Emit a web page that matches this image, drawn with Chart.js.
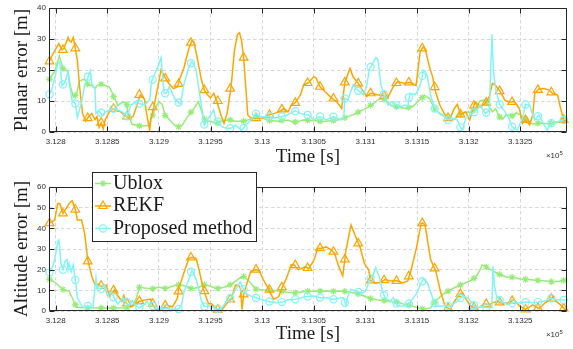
<!DOCTYPE html>
<html><head><meta charset="utf-8">
<script src="https://cdn.jsdelivr.net/npm/chart.js@4.4.1/dist/chart.umd.min.js"></script>
<style>
html,body{margin:0;padding:0;background:#fff;}
#wrap{position:relative;width:573px;height:349px;overflow:hidden;background:#fff;}
canvas{position:absolute;left:0;}
#c1{top:0;width:573px;height:175px;}
#c2{top:165px;width:573px;height:184px;}
</style></head><body>
<div id="wrap"><canvas id="c1" width="573" height="175"></canvas><canvas id="c2" width="573" height="184"></canvas></div>
<script>
// ---------------- DATA ----------------
const seriesNames = ['Ublox', 'REKF', 'Proposed method'];
const xTickValues = [312800, 312850, 312900, 312950, 313000, 313050, 313100, 313150, 313200, 313250];
const planarYTicks = [0, 10, 20, 30, 40];
const altitudeYTicks = [0, 10, 20, 30, 40, 50, 60];
const X_MIN = 312793.5, X_MAX = 313295;

// marker sample times (shared by all series)
const markerTimes = [312794, 312807, 312819, 312831, 312844, 312856, 312869, 312881, 312894, 312906,
  312919, 312931, 312944, 312957, 312969, 312982, 312994, 313007, 313019, 313032,
  313044, 313056, 313069, 313080, 313093, 313105, 313118, 313130, 313142, 313155,
  313167, 313180, 313192, 313205, 313217, 313230, 313242, 313255, 313267, 313280, 313292];

// ---- Planar error: Ublox ----
const planarUbloxT = [312793.5, 312799, 312803.5, 312807, 312812, 312814, 312817, 312820, 312823, 312828,
  312831, 312835, 312838, 312840, 312844, 312848, 312852, 312855, 312857, 312860,
  312864, 312868, 312871, 312874, 312881, 312888, 312891, 312893, 312896, 312900,
  312903, 312906, 312910, 312914, 312918, 312922, 312926, 312929, 312932, 312935,
  312938, 312940, 312943, 312945, 312950, 312955, 312960, 312968, 312973, 312982,
  312987, 312992, 312997, 313001, 313006, 313016, 313021, 313025, 313031, 313040,
  313045, 313059, 313072, 313081, 313091, 313101, 313107, 313114, 313120, 313125,
  313133, 313139, 313146, 313153, 313157, 313162, 313167, 313173, 313180, 313185,
  313194, 313200, 313202, 313205, 313211, 313215, 313218, 313223, 313226, 313230,
  313233, 313236, 313240, 313243, 313246, 313250, 313257, 313262, 313269, 313276,
  313284, 313291, 313295];
const planarUbloxV = [17, 19.5, 24.5, 20.5, 19.5, 15, 11.5, 12, 16.5, 17,
  15.5, 15, 14, 15, 15.5, 15, 14.5, 12.5, 11, 8.5,
  9.5, 9.5, 5, 2.5, 2, 2, 2.5, 5, 7.5, 9.8,
  9, 5.5, 4, 2.5, 1.6, 2, 4, 5.5, 6.6, 8,
  9.8, 8, 4.8, 3.5, 3.5, 2.7, 3.5, 4, 3.5, 3.5,
  4, 4.5, 5.2, 4.5, 3.7, 3.5, 3.8, 3.8, 3.1, 3.9,
  3.8, 3.4, 3.8, 4.7, 6, 7.7, 9, 10.8, 10.3, 8.5,
  8, 7.6, 8.3, 10.5, 11.9, 10.8, 7.5, 5.6, 4.5, 4,
  6, 6.5, 5.8, 7, 10, 10.3, 9.2, 6.5, 7.5, 4.8,
  4.2, 5.5, 5.5, 5, 6.2, 5.5, 3.5, 2.6, 2.9, 2.7,
  3, 3.5, 3.8];
const planarUbloxMk = [17, 20.5, 11.8, 15.4, 15.4, 11.4, 8.8, 2, 5.4, 5.3,
  1.7, 6.4, 4.2, 2.9, 3.9, 3.5, 4.8, 3.7, 3.7, 3.2,
  3.8, 3.5, 3.7, 4.6, 6.4, 8.6, 10.5, 8.2, 7.9, 11.1,
  7.5, 4.5, 5.6, 7, 9.6, 4.8, 5.2, 4.1, 2.8, 2.9, 3.6];

// ---- Planar error: REKF ----
const planarRekfT = [312793.5, 312797, 312803, 312806, 312808, 312812, 312813, 312815, 312817, 312819,
  312821, 312823, 312826, 312829, 312832, 312835, 312838, 312840, 312842, 312844,
  312846, 312848, 312852, 312855, 312859, 312863, 312866, 312871, 312875, 312879,
  312882, 312886, 312888, 312891, 312892, 312895, 312898, 312902, 312906, 312910,
  312914, 312918, 312920, 312924, 312929, 312932, 312934, 312937, 312941, 312944,
  312947, 312950, 312953, 312956, 312960, 312963, 312966, 312970, 312973, 312976,
  312978, 312980, 312982, 312984, 312986, 312989, 312997, 313001, 313006, 313012,
  313016, 313021, 313025, 313028, 313032, 313037, 313040, 313045, 313050, 313052,
  313056, 313061, 313067, 313072, 313077, 313080, 313085, 313088, 313093, 313098,
  313101, 313105, 313112, 313122, 313127, 313131, 313138, 313143, 313149, 313153,
  313156, 313158, 313162, 313165, 313168, 313172, 313177, 313182, 313186, 313189,
  313192, 313197, 313201, 313206, 313209, 313211, 313216, 313220, 313223, 313226,
  313231, 313235, 313239, 313244, 313249, 313252, 313255, 313259, 313262, 313264,
  313268, 313273, 313278, 313281, 313286, 313289, 313292, 313295];
const planarRekfV = [22.5, 25, 28.5, 26.5, 27, 30.5, 29.5, 29, 30.5, 27,
  23, 15, 6, 3.5, 5, 6, 4, 5, 1.5, 3,
  1, 4, 6.5, 7.5, 7, 6.5, 5.5, 4.5, 5, 9,
  12, 10.5, 6, 0.5, 4, 8, 13, 20, 17.5, 15.5,
  14, 14.5, 17, 20.5, 27, 29.5, 29, 24, 17, 13.5,
  12, 11, 12.5, 10, 5.5, 2.8, 6, 15, 26, 31.5,
  32, 29.5, 24, 15, 5.5, 4.5, 4.5, 4.5, 5.5, 6,
  6.5, 7.5, 6.5, 8.5, 9.5, 12, 15, 16, 17.8, 17.5,
  14.6, 13, 11, 9.8, 7.6, 16, 20.5, 17.8, 15.7, 13,
  11.4, 12.5, 12, 11.4, 14.6, 16.2, 15.7, 16, 15, 26,
  27.5, 26.5, 21, 17.8, 12.8, 8.7, 5.5, 4.4, 7.6, 8.9,
  5.7, 6.5, 3.9, 9.6, 9, 8, 9.2, 11.5, 15.7, 15,
  12.8, 10.3, 9.6, 9.8, 7.6, 2.8, 3.9, 2.3, 5.5, 12.5,
  13.9, 14, 13.5, 12.5, 12, 7.6, 3.9, 3.5];
const planarRekfMk = [22.8, 26.5, 27, 4.5, 3, 7.5, 5, 12, 8, 17.3,
  15.5, 28.8, 13.5, 10, 14, 24, 4.5, 5.5, 7.3, 9.4,
  15.8, 14.6, 10.8, 16, 15.7, 12.5, 11.7, 15.8, 16, 27,
  14.5, 4.5, 5.7, 8.5, 9.5, 13.2, 9.7, 3.9, 13.6, 12.8, 3.9];

// ---- Planar error: Proposed method ----
const planarPropT = [312793.5, 312796, 312799, 312802, 312804, 312806, 312809, 312812, 312813, 312816,
  312819, 312821, 312825, 312828, 312831, 312833.5, 312835, 312838, 312839, 312842,
  312845, 312850, 312857, 312864, 312869, 312873, 312878, 312881, 312886, 312891,
  312893, 312897, 312900, 312902, 312905, 312907, 312910, 312915, 312918, 312921,
  312924, 312929, 312932, 312936, 312939, 312941, 312944, 312946, 312950, 312953,
  312955, 312957, 312961, 312965, 312970, 312974, 312980, 312984, 312989, 312994,
  312998, 313006, 313011, 313019, 313024, 313032, 313037, 313043, 313045, 313050,
  313056, 313062, 313069, 313076, 313079, 313080, 313083, 313088, 313091, 313095,
  313098, 313101, 313104, 313106, 313110, 313112, 313115, 313119, 313122, 313125,
  313130, 313134, 313139, 313141, 313143, 313148, 313151, 313154, 313156, 313158,
  313160, 313163, 313167, 313170, 313175, 313180, 313184, 313189, 313192, 313194,
  313197, 313201, 313206, 313209, 313211, 313216, 313220, 313222.5, 313224, 313226,
  313230, 313235, 313239, 313242, 313247, 313252, 313255, 313259, 313262, 313264,
  313268, 313273, 313276, 313281, 313286, 313292, 313295];
const planarPropV = [12, 13.5, 17.3, 22, 22.7, 15, 16, 19.5, 16, 9.8,
  9.2, 4.8, 9.5, 15.2, 17.3, 19.7, 15.5, 14, 6, 6.8,
  5.5, 6.8, 7.5, 6.6, 5, 8.7, 9.8, 9.2, 8.7, 10.3,
  16.5, 19.5, 22, 24, 12.5, 12.5, 14.6, 10.9, 9.8, 9,
  15.2, 21, 22.8, 20, 13, 8.7, 2.2, 3.5, 5.5, 7.1,
  4, 3.2, 1.7, 1.2, 1.2, 2.2, 0.6, 2.2, 3.8, 6,
  4.8, 5, 4.5, 5, 5.5, 6.8, 6, 5.5, 5.5, 3.9,
  5, 3.9, 5, 3.9, 4.4, 10.9, 10.3, 15.2, 14, 12.8,
  12, 14.6, 20.5, 21.5, 24, 23.5, 15.2, 10.9, 8.7, 9.8,
  8.7, 8.2, 8.7, 8, 12.5, 12, 13.6, 16.2, 20, 19.5,
  17.8, 12, 7.6, 6.5, 5.5, 3.9, 4.4, 3.9, 1.5, 0.6,
  4.4, 5.5, 6.6, 7.6, 8.7, 6, 7, 31.5, 19.5, 14,
  8.9, 6.6, 4.4, 1.7, 0.6, 4.4, 8.9, 8.7, 5.5, 3.9,
  5.5, 2.3, 0.6, 3.3, 3.3, 3.9, 4.4];
const planarPropMk = [12.2, 15.3, 9.2, 17.8, 6.2, 7.5, 5.1, 9.2, 16.9, 12.5,
  9.5, 22.2, 2.4, 3.4, 1.2, 1.2, 5.9, 5, 5, 6.7,
  5.5, 5, 4.9, 10.8, 13.3, 21, 12.2, 8.6, 11.1, 18.1,
  7.6, 3.9, 1.5, 6.4, 6.2, 8.9, 1.7, 8.9, 5.1, 2.8, 3.9];

// ---- Altitude error: Ublox ----
const altUbloxT = [312793.5, 312799, 312807, 312813, 312816, 312820, 312831, 312844, 312857, 312869,
  312874, 312878, 312881, 312888, 312893, 312900, 312907, 312913, 312919, 312926,
  312932, 312939, 312944, 312950, 312956, 312963, 312970, 312977, 312982, 312987,
  312994, 313000, 313006, 313013, 313019, 313025, 313031, 313038, 313045, 313056,
  313069, 313080, 313088, 313093, 313100, 313105, 313112, 313119, 313125, 313131,
  313138, 313144, 313151, 313157, 313163, 313168, 313175, 313182, 313187, 313194,
  313201, 313207, 313210, 313213, 313218, 313223, 313231, 313237, 313244, 313250,
  313257, 313268, 313275, 313281, 313288, 313293, 313295];
const altUbloxV = [15.5, 14, 10.4, 9.5, 6.4, 1.8, 1.6, 1.4, 1.4, 1.6,
  2.5, 6, 11.5, 11, 10.8, 11.5, 10.8, 12, 12.8, 12,
  10.8, 11.5, 12.8, 12, 10.8, 11.5, 12.8, 15.5, 16.8, 14.5,
  10.5, 10.3, 10.1, 9.8, 9.6, 9, 8.8, 9.2, 9.6, 9.7,
  9.6, 9.5, 8.8, 8.2, 7, 6, 5.3, 5, 4.5, 4.2,
  3.2, 2.6, 1.5, 0.8, 1.5, 5, 8, 10.2, 11.5, 13,
  14.5, 16.5, 19, 22.3, 21, 19.5, 17.4, 16.5, 16.2, 15.5,
  15.2, 14.8, 14.5, 14.2, 14.4, 14.9, 15];
const altUbloxMk = [15.3, 10.4, 3, 1.6, 1.4, 1.4, 1.6, 11.5, 10.8, 10.9,
  12.7, 10.9, 12.7, 10.9, 12.7, 16.7, 10.5, 10.1, 9.6, 8.8,
  9.5, 9.7, 9.6, 9.5, 8.2, 6, 5.1, 4.3, 2.8, 1.1,
  4.3, 9.6, 12.6, 15.8, 21.3, 17.7, 16.3, 15.3, 14.8, 14.2, 14.8];

// ---- Altitude error: REKF ----
const altRekfT = [312793.5, 312799, 312802, 312804, 312807, 312811, 312813, 312816, 312819, 312821,
  312825, 312828, 312831, 312835, 312838, 312842, 312844, 312849, 312852, 312857,
  312860, 312864, 312866, 312868, 312873, 312876, 312881, 312888, 312892, 312893,
  312897, 312903, 312907, 312913, 312918, 312919, 312924, 312929, 312932, 312936,
  312939, 312942, 312944, 312948, 312951, 312956, 312961, 312966, 312970, 312974,
  312977, 312979, 312980.5, 312982, 312985, 312989, 312994, 312997, 313001, 313006,
  313011, 313016, 313019, 313024, 313028, 313031, 313035, 313038, 313042, 313045,
  313050, 313054, 313057, 313062, 313067, 313070, 313074, 313078, 313081, 313085,
  313086, 313090, 313095, 313099, 313103, 313105, 313110, 313114, 313119, 313124,
  313130, 313136, 313141, 313144, 313149, 313154, 313156, 313158, 313163, 313168,
  313173, 313177, 313182, 313186, 313191, 313194, 313197, 313202, 313207, 313211,
  313216, 313220, 313223, 313228, 313233, 313239, 313244, 313249, 313255, 313262,
  313268, 313274, 313279, 313282, 313284, 313289, 313293, 313295];
const altRekfV = [42.4, 44, 52, 52, 47.2, 50.4, 52, 53.3, 49.1, 44,
  44, 37.6, 25, 16.7, 12.7, 13, 11.9, 12.5, 7, 10.3,
  7.5, 4.7, 7.5, 3.9, 1.9, 3, 4.7, 5.5, 5.8, 3.9,
  0.6, 0.6, 3, 1.9, 6.3, 10.5, 18.3, 25.5, 26, 25.5,
  19.6, 12.7, 9, 3.5, 3.5, 0.7, 0.6, 3.9, 5.8, 12.5,
  12.5, 11, 0.6, 8, 13, 19.3, 20, 19.5, 15.2, 10.8,
  5.6, 7, 11, 16.5, 22.5, 22.3, 20, 20.5, 21.5, 20.4,
  24.5, 30.5, 30.3, 31, 29.5, 28, 21.7, 17, 29, 39.3,
  41.7, 36.5, 30.5, 23, 20, 14.8, 13.5, 13.8, 15.2, 14.5,
  14.7, 13.6, 14.5, 19.5, 29.7, 42.5, 42.5, 41, 25, 19.5,
  8.8, 2.4, 0.8, 4.5, 8, 8.7, 6, 2.5, 1.1, 2,
  3.5, 3, 4, 4.6, 3.5, 4, 5.5, 2.5, 0.8, 3,
  1.2, 4, 5.5, 7, 5, 3, 0.8, 1];
const altRekfMk = [42.5, 47.2, 49.1, 24, 12.2, 10, 3.7, 4.8, 3.5, 2.7,
  9.5, 25.9, 9.6, 0.7, 5.6, 8, 20, 10.3, 11.5, 22.2,
  20.8, 30.4, 28.7, 25, 32.7, 14.8, 14.9, 14.6, 16.8, 42.5,
  20.6, 1.4, 8.2, 1.7, 3.4, 4.2, 4.9, 0.8, 1.5, 6, 1.2];

// ---- Altitude error: Proposed method ----
const altPropT = [312793.5, 312797, 312799, 312802, 312803, 312804, 312805, 312807, 312809, 312811,
  312812, 312813, 312815, 312817, 312819, 312821, 312825, 312828, 312831, 312836,
  312839, 312840, 312842, 312844, 312847, 312850, 312854, 312857, 312860, 312864,
  312865, 312868, 312871, 312874, 312878, 312881, 312886, 312888, 312893, 312900,
  312907, 312913, 312918, 312919, 312922, 312924, 312927, 312929, 312932, 312936,
  312939, 312941, 312944, 312950, 312955, 312960, 312966, 312970, 312974, 312977,
  312979, 312980, 312984, 312989, 312994, 312999, 313006, 313013, 313019, 313025,
  313031, 313038, 313043, 313050, 313056, 313062, 313069, 313076, 313079, 313081,
  313083, 313086, 313091, 313095, 313098, 313101, 313104, 313107, 313110, 313113,
  313117, 313119, 313124, 313127, 313131, 313136, 313141, 313144, 313149, 313154,
  313156, 313160, 313165, 313168, 313175, 313182, 313187, 313194, 313199, 313203,
  313207, 313213, 313218, 313222.5, 313223.5, 313225, 313227, 313231, 313237, 313244,
  313250, 313257, 313262, 313268, 313274, 313279, 313284, 313293, 313295];
const altPropV = [18.5, 21.5, 24.9, 33.7, 34.3, 30, 23, 20, 24, 25,
  20, 23, 19, 22.3, 15, 6.5, 2.5, 1.5, 2.5, 1.5,
  16, 11, 11, 10.5, 12.5, 7.5, 9.5, 6, 3.5, 5.5,
  6.5, 4.5, 2.5, 5, 2.5, 1.5, 3, 4.5, 2.5, 1,
  1.2, 0.8, 1, 1, 3, 8.8, 12.7, 15.2, 19.8, 15.2,
  9.5, 5, 2.2, 2.4, 1.1, 1.1, 4.8, 6.4, 10.4, 12.7,
  14, 12.5, 8.5, 7.2, 6.4, 5.6, 4.6, 4, 4.2, 5.5,
  5.6, 6.4, 7, 7.2, 6.4, 6.4, 5.6, 6.4, 6.4, 2.7,
  7.2, 10.4, 9.6, 8.8, 8.8, 10.4, 15.2, 16.9, 21, 17,
  8.8, 6.4, 4.8, 6.4, 2.5, 2.4, 2.4, 4.8, 8, 13.6,
  15.6, 13.6, 6.4, 2.4, 2.4, 2.4, 4, 7.2, 6.4, 4,
  1.6, 2, 1.6, 1.6, 21.7, 12, 7, 4.8, 3.2, 4,
  4, 4.3, 4, 4.3, 4.8, 6.4, 5.6, 5.3, 5.2];
const altPropMk = [18.7, 20, 15, 2.4, 10.6, 6.6, 4.2, 1.7, 2.4, 1.2,
  1, 19, 2.2, 1.1, 6.2, 10.5, 6.3, 4.6, 4.3, 5.7,
  7, 6.5, 5.7, 4, 9.2, 15.8, 7.8, 3.6, 3.5, 14.4,
  3.7, 2.4, 6.3, 2.8, 1.7, 5.3, 3.8, 4.2, 4.3, 6.2, 5.3];

// ---------------- STYLE ----------------
const styles = {
  'Ublox':           {color: '#97EC79', marker: 'star',     radius: 3.3, order: 3},
  'REKF':            {color: '#FFA500', marker: 'triangle', radius: 5,   order: 2},
  'Proposed method': {color: '#84F3F3', marker: 'circle',   radius: 3.6, order: 1}
};
const tickFont = {family: '"Liberation Sans", Arial, sans-serif', size: 8};
const tickColor = '#2e2e2e';
const titleFont = {family: '"Liberation Serif", serif', size: 19};
const titleColor = '#1a1a1a';
const H = Chart.helpers;

function drawMarker(ctx, st, x, y) {
  ctx.save();
  ctx.strokeStyle = st.color; ctx.fillStyle = 'rgba(0,0,0,0)'; ctx.lineWidth = 1.2;
  H.drawPoint(ctx, {pointStyle: st.marker, radius: st.radius, borderWidth: 1.2, rotation: 0}, x, y);
  ctx.restore();
}

function makeDatasets(list) {
  const ds = [];
  list.forEach(s => {
    const st = styles[s.name];
    ds.push({label: s.name, data: s.T.map((t, i) => ({x: t, y: s.V[i]})), showLine: true,
      borderColor: st.color, backgroundColor: st.color, borderWidth: 1.5, pointRadius: 0, order: st.order});
    ds.push({label: s.name + ' markers', data: markerTimes.map((t, i) => ({x: t, y: s.M[i]})), showLine: false,
      pointStyle: st.marker, pointRadius: st.radius, pointBorderWidth: 1.2, pointBorderColor: st.color,
      pointBackgroundColor: 'rgba(0,0,0,0)', borderColor: st.color, backgroundColor: 'rgba(0,0,0,0)',
      order: st.order, clip: 8});
  });
  return ds;
}

const framePlugin = {
  id: 'frame',
  afterDatasetsDraw(chart) {
    const {ctx, chartArea: a} = chart;
    const xs = chart.scales.x, ys = chart.scales.y;
    const L = Math.round(a.left) + 0.5, R = Math.round(a.right) - 0.5;
    const T = Math.round(a.top) + 0.5, B = Math.round(a.bottom) - 0.5;
    ctx.save();
    ctx.strokeStyle = '#262626'; ctx.lineWidth = 1; ctx.setLineDash([]);
    ctx.beginPath();
    ctx.rect(L, T, R - L, B - T);
    xs.ticks.forEach(t => { const p = Math.round(xs.getPixelForValue(t.value)) + 0.5;
      ctx.moveTo(p, B); ctx.lineTo(p, B - 5); ctx.moveTo(p, T); ctx.lineTo(p, T + 5); });
    ys.ticks.forEach(t => { const p = Math.round(ys.getPixelForValue(t.value)) + 0.5;
      ctx.moveTo(L, p); ctx.lineTo(L + 5, p); ctx.moveTo(R, p); ctx.lineTo(R - 5, p); });
    ctx.stroke();
    ctx.restore();
  },
  afterDraw(chart) {
    const {ctx, chartArea: a} = chart;
    const by = a.bottom + 26;
    ctx.save();
    ctx.fillStyle = tickColor; ctx.textAlign = 'right'; ctx.textBaseline = 'alphabetic';
    ctx.font = '6px "Liberation Sans"';
    const e = '5';
    ctx.fillText(e, a.right - 4, by - 3.5);
    const w = ctx.measureText(e).width;
    ctx.font = '8px "Liberation Sans"';
    ctx.fillText('\u00d710', a.right - 4 - w, by);
    ctx.restore();
  }
};

const legendPlugin = {
  id: 'mlegend',
  afterDraw(chart) {
    const ctx = chart.ctx;
    const bx = 92, by = 7, bw = 164, bh = 69;
    ctx.save();
    ctx.fillStyle = '#ffffff'; ctx.fillRect(bx, by, bw, bh);
    ctx.strokeStyle = '#262626'; ctx.lineWidth = 1; ctx.strokeRect(bx + 0.5, by + 0.5, bw, bh);
    ctx.font = '20px "Liberation Serif"'; ctx.textBaseline = 'middle'; ctx.textAlign = 'left';
    seriesNames.forEach((name, i) => {
      const st = styles[name];
      const y = by + 11.5 + i * 22.5;
      ctx.strokeStyle = st.color; ctx.lineWidth = 1.5;
      ctx.beginPath(); ctx.moveTo(bx + 3, y); ctx.lineTo(bx + 19, y); ctx.stroke();
      drawMarker(ctx, st, bx + 11, y);
      ctx.fillStyle = titleColor;
      ctx.fillText(name, bx + 21, y);
    });
    ctx.restore();
  }
};

function fmt(v) { return String(+(v / 1e5).toFixed(6)); }

function makeChart(id, cfg) {
  return new Chart(document.getElementById(id), {
    type: 'scatter',
    data: {datasets: makeDatasets(cfg.series)},
    options: {
      responsive: false, devicePixelRatio: 1, animation: false, events: [],
      layout: {padding: {left: 0, right: 3, top: cfg.padTop, bottom: 0}},
      plugins: {legend: {display: false}, tooltip: {enabled: false}},
      scales: {
        x: {type: 'linear', position: 'bottom', min: X_MIN, max: X_MAX,
          afterFit: s => { s.height = cfg.xHeight; },
          afterBuildTicks: s => { s.ticks = xTickValues.map(v => ({value: v})); },
          ticks: {padding: 5, font: tickFont, color: tickColor, maxRotation: 0, autoSkip: false, callback: v => fmt(v)},
          grid: {color: '#d8d8d8', lineWidth: 1, drawTicks: false},
          border: {display: false, dash: [3.5, 2.5]},
          title: {display: true, text: 'Time [s]', font: titleFont, color: titleColor, padding: {top: 0, bottom: cfg.xTitlePad}}},
        y: {type: 'linear', min: 0, max: cfg.yTicks[cfg.yTicks.length - 1],
          afterFit: s => { s.width = 49; },
          afterBuildTicks: s => { s.ticks = cfg.yTicks.map(v => ({value: v})); },
          ticks: {padding: 3, font: tickFont, color: tickColor},
          grid: {color: '#d8d8d8', lineWidth: 1, drawTicks: false},
          border: {display: false, dash: [3.5, 2.5]},
          title: {display: true, text: cfg.yTitle, font: titleFont, color: titleColor, padding: {top: 11.1, bottom: 0}}}
      }
    },
    plugins: cfg.legend ? [framePlugin, legendPlugin] : [framePlugin]
  });
}

makeChart('c1', {
  padTop: 8, xHeight: 43, xTitlePad: 6.1, yTicks: planarYTicks, yTitle: 'Planar error [m]', legend: false,
  series: [
    {name: 'Ublox', T: planarUbloxT, V: planarUbloxV, M: planarUbloxMk},
    {name: 'REKF', T: planarRekfT, V: planarRekfV, M: planarRekfMk},
    {name: 'Proposed method', T: planarPropT, V: planarPropV, M: planarPropMk}
  ]
});
makeChart('c2', {
  padTop: 22, xHeight: 38, xTitlePad: 3.1, yTicks: altitudeYTicks, yTitle: 'Altitude error [m]', legend: true,
  series: [
    {name: 'Ublox', T: altUbloxT, V: altUbloxV, M: altUbloxMk},
    {name: 'REKF', T: altRekfT, V: altRekfV, M: altRekfMk},
    {name: 'Proposed method', T: altPropT, V: altPropV, M: altPropMk}
  ]
});
</script>
</body></html>
